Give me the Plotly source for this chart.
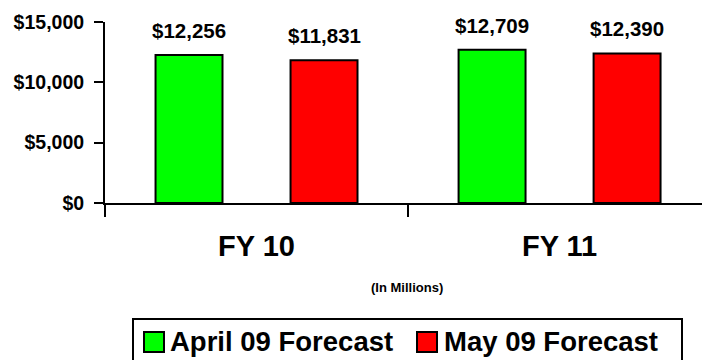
import plotly.graph_objects as go

# Data (in millions of dollars)
years = ["FY 10", "FY 11"]
series_names = ["April 09 Forecast", "May 09 Forecast"]
april_09 = [12256, 12709]
may_09 = [11831, 12390]
series_values = [april_09, may_09]
series_colors = ["#00FF00", "#FF0000"]
y_ticks = [0, 5000, 10000, 15000]
y_tick_labels = ["$0", "$5,000", "$10,000", "$15,000"]

W, H = 702, 360
ML, MT, MB = 105, 22, 157
PW, PH = W - ML, H - MT - MB

FONT = "Arial, Liberation Sans, sans-serif"


def px(xp):
    return (xp - ML) / PW


def py(yp):
    return (H - MB - yp) / PH


fig = go.Figure()
for name, vals, color in zip(series_names, series_values, series_colors):
    fig.add_trace(go.Bar(
        x=years, y=vals, name=name,
        marker=dict(color=color, line=dict(color="black", width=2)),
        showlegend=False,
    ))

# value labels above each bar (bar centres sit a quarter-ish category off centre)
BARGAP, BARGROUPGAP = 0.109, 0.504
bar_offset = (1 - BARGAP) / 4
annotations = []
for s, vals in enumerate(series_values):
    off = -bar_offset if s == 0 else bar_offset
    for i, v in enumerate(vals):
        annotations.append(dict(
            x=i + off, y=v, xref="x", yref="y",
            text=f"<b>${v:,}</b>", showarrow=False, yanchor="bottom", yshift=11,
            font=dict(family=FONT, size=20.5, color="black"),
        ))

annotations.append(dict(
    x=px(407), y=py(297), xref="paper", yref="paper",
    text="<b>(In Millions)</b>", showarrow=False,
    font=dict(family=FONT, size=13, color="black"),
))

# legend box with swatches
shapes = [dict(type="rect", xref="paper", yref="paper",
               x0=px(133), x1=px(682), y0=py(365), y1=py(319),
               line=dict(color="black", width=2), fillcolor="white")]
legend_items = [(144, 168), (417, 442)]
for (sx, tx), name, color in zip(legend_items, series_names, series_colors):
    shapes.append(dict(type="rect", xref="paper", yref="paper",
                       x0=px(sx), x1=px(sx + 20), y0=py(352), y1=py(332),
                       line=dict(color="black", width=2), fillcolor=color))
    annotations.append(dict(
        x=px(tx), y=py(341), xref="paper", yref="paper",
        text=f"<b>{name}</b>", showarrow=False, xanchor="left", yanchor="middle",
        font=dict(family=FONT, size=27.5, color="black"),
    ))

fig.update_layout(
    width=W, height=H,
    margin=dict(l=ML, r=0, t=MT, b=MB, autoexpand=False),
    paper_bgcolor="white", plot_bgcolor="white",
    barmode="group", bargap=BARGAP, bargroupgap=BARGROUPGAP,
    font=dict(family=FONT, color="black"),
    annotations=annotations, shapes=shapes,
    showlegend=False,
)
fig.update_xaxes(
    range=[-0.5, 1.47], showline=True, linecolor="black", linewidth=2,
    ticks="outside", tickson="boundaries", ticklen=12, tickwidth=2, tickcolor="black",
    tickfont=dict(family=FONT, size=29, color="black"),
    ticklabelstandoff=16, showgrid=False, zeroline=False,
)
fig.update_yaxes(
    range=[0, 15000], tickvals=y_ticks, ticktext=[f"<b>{t}</b>" for t in y_tick_labels],
    showline=True, linecolor="black", linewidth=2,
    ticks="outside", ticklen=9, tickwidth=2, tickcolor="black",
    tickfont=dict(family=FONT, size=19.5, color="black"),
    ticklabelstandoff=6, showgrid=False, zeroline=False,
)
fig.update_xaxes(ticktext=[f"<b>{y}</b>" for y in years], tickvals=years)

fig.write_html("out.html")
